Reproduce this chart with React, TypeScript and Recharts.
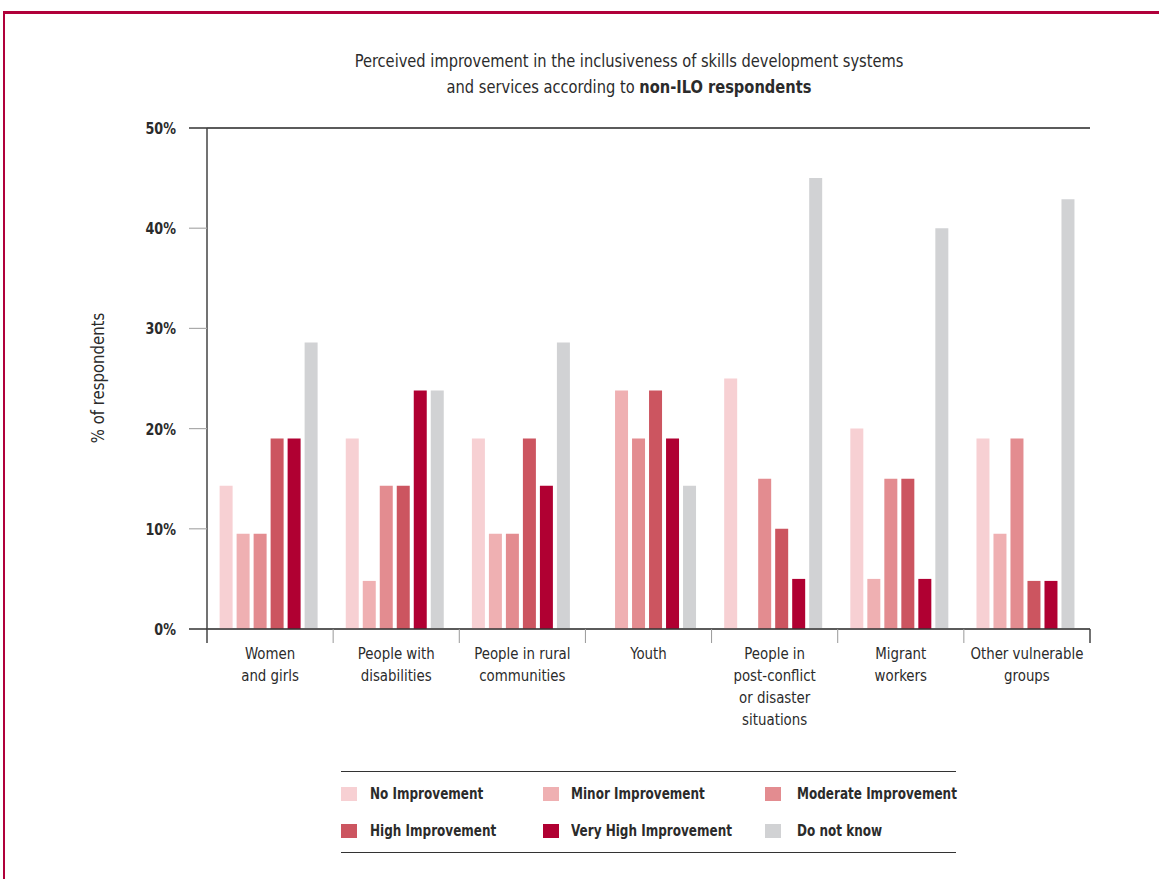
import React from 'react';
import { BarChart, Bar, XAxis, YAxis, CartesianGrid, ReferenceLine } from 'recharts';

const categories = [
  'Women\nand girls',
  'People with\ndisabilities',
  'People in rural\ncommunities',
  'Youth',
  'People in\npost-conflict\nor disaster\nsituations',
  'Migrant\nworkers',
  'Other vulnerable\ngroups',
];

const seriesNames = [
  'No Improvement',
  'Minor Improvement',
  'Moderate Improvement',
  'High Improvement',
  'Very High Improvement',
  'Do not know',
];
const seriesKeys = ['none', 'minor', 'moderate', 'high', 'veryHigh', 'dontKnow'];
const seriesColors = ['#f7d0d3', '#efb0b2', '#e38c90', '#cc5560', '#b00032', '#d1d2d4'];

const noImprovement = [14.3, 19.0, 19.0, 0, 25, 20, 19.0];
const minorImprovement = [9.5, 4.8, 9.5, 23.8, 0, 5, 9.5];
const moderateImprovement = [9.5, 14.3, 9.5, 19.0, 15, 15, 19.0];
const highImprovement = [19.0, 14.3, 19.0, 23.8, 10, 15, 4.8];
const veryHighImprovement = [19.0, 23.8, 14.3, 19.0, 5, 5, 4.8];
const doNotKnow = [28.6, 23.8, 28.6, 14.3, 45, 40, 42.9];

const yTicks = [0, 10, 20, 30, 40, 50];

const seriesValues = [
  noImprovement,
  minorImprovement,
  moderateImprovement,
  highImprovement,
  veryHighImprovement,
  doNotKnow,
];

const data = categories.map((name, i) => {
  const row: any = { name };
  seriesKeys.forEach((k, s) => {
    row[k] = seriesValues[s][i];
  });
  return row;
});

const FONT = '"Liberation Sans Narrow", "DejaVu Sans Condensed", "Roboto", sans-serif';
const TEXT = '#2b2b2b';

// plot geometry
const W = 1159;
const H = 879;
const M = { top: 128, right: 69, bottom: 150, left: 127 };
const Y_W = 80;
const X_H = 100;
const PLOT_W = W - M.left - M.right - Y_W;
const BAND = PLOT_W / categories.length;

const YTick = ({ x, y, payload }: any) => {
  const edge = payload.value === 0 || payload.value === 50;
  return (
    <g>
      <line x1={x + 13} x2={x + 31} y1={y} y2={y} stroke={edge ? '#333' : '#aaa'} strokeWidth={edge ? 1.5 : 1.2} />
      <text
        transform={`translate(${x},${y}) scale(0.86,1)`}
        dy={6}
        textAnchor="end"
        fontFamily={FONT}
        fontWeight="bold"
        fontSize={16.5}
        fill={TEXT}
      >
        {payload.value}%
      </text>
    </g>
  );
};

const XTick = ({ x, y, payload, index }: any) => {
  const lines = String(payload.value).split('\n');
  const last = index === categories.length - 1;
  return (
    <g>
      <line x1={x - BAND / 2} x2={x - BAND / 2} y1={y} y2={y + 14} stroke={index === 0 ? '#444' : '#999'} strokeWidth={index === 0 ? 1.5 : 1} />
      {last && <line x1={x + BAND / 2} x2={x + BAND / 2} y1={y} y2={y + 14} stroke="#444" strokeWidth={1.5} />}
      <text transform={`translate(${x},${y}) scale(0.9,1)`} textAnchor="middle" fontFamily={FONT} fontSize={16.5} fill={TEXT}>
        {lines.map((l, i) => (
          <tspan key={i} x={0} y={30 + i * 22}>
            {l}
          </tspan>
        ))}
      </text>
    </g>
  );
};

const Legend = () => {
  const cols = [0, 202, 424];
  const textOff = [29, 28, 32];
  return (
    <div
      style={{
        position: 'absolute',
        left: 341,
        top: 771,
        width: 615,
        height: 80,
        borderTop: '1.5px solid #333',
        borderBottom: '1.5px solid #333',
        fontFamily: FONT,
        fontWeight: 'bold',
        fontSize: 16.5,
        color: TEXT,
      }}
    >
      {seriesNames.map((n, i) => {
        const c = i % 3;
        const r = Math.floor(i / 3);
        return (
          <div key={n} style={{ position: 'absolute', left: cols[c], top: 14 + r * 37, height: 16, display: 'flex', alignItems: 'center' }}>
            <span style={{ width: 16, height: 14, background: seriesColors[i], display: 'inline-block' }} />
            <span
              style={{
                position: 'absolute',
                left: textOff[c],
                whiteSpace: 'nowrap',
                lineHeight: '16px',
                transform: 'scaleX(0.81)',
                transformOrigin: 'left center',
              }}
            >
              {n}
            </span>
          </div>
        );
      })}
    </div>
  );
};

export default function App() {
  return (
    <div style={{ position: 'absolute', left: 0, top: 0, width: W, height: H, overflow: 'hidden', background: '#fff' }}>
      <div
        style={{
          position: 'absolute',
          left: 3,
          top: 11,
          width: 1300,
          height: 1000,
          borderTop: '3px solid #b0003a',
          borderLeft: '2px solid #b0003a',
        }}
      />
      <div
        style={{
          position: 'absolute',
          left: 329,
          top: 48,
          width: 600,
          textAlign: 'center',
          fontFamily: FONT,
          fontSize: 17.5,
          lineHeight: '26px',
          color: TEXT,
          transform: 'scaleX(0.93)',
          transformOrigin: '300px 0',
        }}
      >
        Perceived improvement in the inclusiveness of skills development systems
        <br />
        and services according to <b>non-ILO respondents</b>
      </div>
      <div
        style={{
          position: 'absolute',
          left: 97,
          top: 378,
          transform: 'translate(-50%, -50%) rotate(-90deg) scaleX(0.92)',
          whiteSpace: 'nowrap',
          fontFamily: FONT,
          fontSize: 18,
          color: TEXT,
        }}
      >
        % of respondents
      </div>
      <div style={{ position: 'absolute', left: 0, top: 0 }}>
        <BarChart width={W} height={H} data={data} margin={M} barGap={4} barCategoryGap="10%">
          <CartesianGrid vertical={false} stroke="#aaa" strokeWidth={1.2} />
          <XAxis
            dataKey="name"
            height={X_H}
            interval={0}
            tickLine={false}
            tickSize={0}
            tickMargin={0}
            axisLine={{ stroke: '#333', strokeWidth: 1.5 }}
            tick={<XTick />}
          />
          <YAxis
            yAxisId="l"
            width={Y_W}
            domain={[0, 50]}
            ticks={yTicks}
            tickLine={false}
            tickSize={18}
            tickMargin={13}
            axisLine={{ stroke: '#444', strokeWidth: 1.5 }}
            tick={<YTick />}
          />
          <YAxis yAxisId="r" orientation="right" width={0} domain={[0, 50]} tick={false} tickLine={false} axisLine={{ stroke: '#444', strokeWidth: 1.5 }} />
          <ReferenceLine yAxisId="l" y={50} stroke="#333" strokeWidth={1.5} />
          {seriesKeys.map((k, i) => (
            <Bar key={k} yAxisId="l" dataKey={k} name={seriesNames[i]} fill={seriesColors[i]} isAnimationActive={false} />
          ))}
        </BarChart>
      </div>
      <Legend />
    </div>
  );
}
